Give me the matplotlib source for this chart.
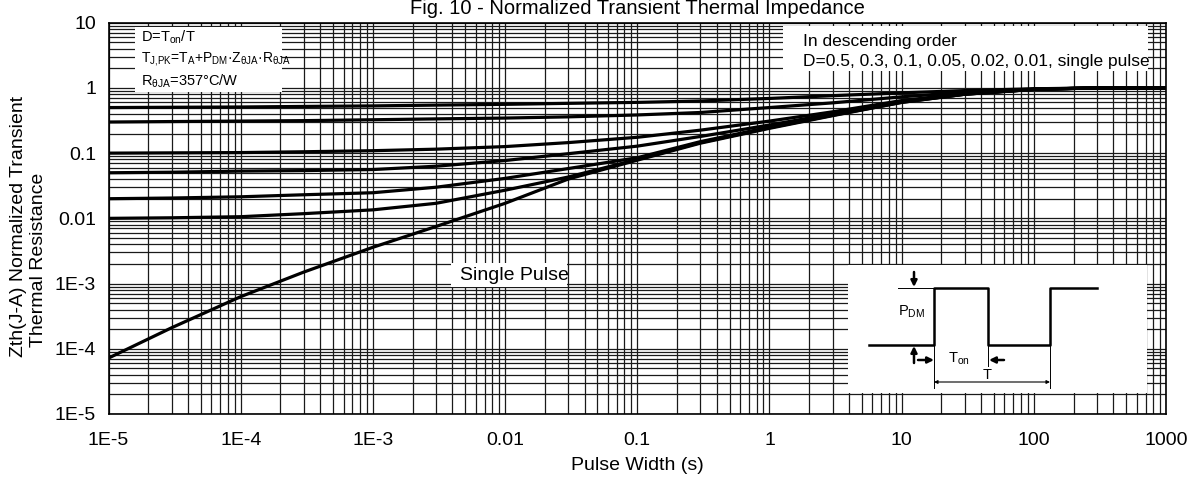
import matplotlib
matplotlib.use("Agg")
import matplotlib.pyplot as plt
from matplotlib.patches import Rectangle
from matplotlib.ticker import LogLocator, NullFormatter

W, H = 1194, 483

plt.rcParams["font.family"] = ["Liberation Sans", "DejaVu Sans"]
plt.rcParams["mathtext.fontset"] = "custom"
plt.rcParams["mathtext.rm"] = "Liberation Sans"
plt.rcParams["mathtext.it"] = "Liberation Sans"
plt.rcParams["mathtext.default"] = "regular"

# ---- data ------------------------------------------------------------------
pulse_width = [1e-5, 3e-5, 1e-4, 3e-4, 1e-3, 3e-3, 1e-2, 3e-2, 0.1, 0.3,
               1, 3, 10, 30, 100, 300, 1000]
zth_d050 = [0.50, 0.505, 0.51, 0.52, 0.53, 0.545, 0.56, 0.58, 0.60, 0.63,
            0.69, 0.76, 0.84, 0.91, 0.97, 1.0, 1.0]
zth_d030 = [0.30, 0.305, 0.31, 0.315, 0.325, 0.335, 0.345, 0.36, 0.385, 0.42,
            0.50, 0.59, 0.73, 0.86, 0.96, 1.0, 1.0]
zth_d010 = [0.100, 0.101, 0.102, 0.105, 0.109, 0.115, 0.126, 0.145, 0.175, 0.225,
            0.31, 0.43, 0.64, 0.82, 0.95, 1.0, 1.0]
zth_d005 = [0.050, 0.051, 0.053, 0.054, 0.056, 0.063, 0.077, 0.098, 0.128, 0.18,
            0.27, 0.40, 0.62, 0.81, 0.95, 1.0, 1.0]
zth_d002 = [0.020, 0.0205, 0.0214, 0.023, 0.0247, 0.030, 0.041, 0.058, 0.085, 0.15,
            0.25, 0.39, 0.61, 0.80, 0.95, 1.0, 1.0]
zth_d001 = [0.0100, 0.0102, 0.0106, 0.0118, 0.0135, 0.017, 0.027, 0.043, 0.080, 0.145,
            0.245, 0.38, 0.60, 0.80, 0.95, 1.0, 1.0]
zth_single = [7.2e-5, 2.1e-4, 6.3e-4, 1.5e-3, 3.6e-3, 7.5e-3, 0.017, 0.040, 0.078, 0.142,
              0.24, 0.375, 0.60, 0.80, 0.95, 1.0, 1.0]
curves = [zth_d050, zth_d030, zth_d010, zth_d005, zth_d002, zth_d001, zth_single]

x_ticks = [1e-5, 1e-4, 1e-3, 1e-2, 0.1, 1, 10, 100, 1000]
x_tick_labels = ["1E-5", "1E-4", "1E-3", "0.01", "0.1", "1", "10", "100", "1000"]
y_ticks = [1e-5, 1e-4, 1e-3, 1e-2, 0.1, 1, 10]
y_tick_labels = ["1E-5", "1E-4", "1E-3", "0.01", "0.1", "1", "10"]

# schematic of the pulse train in the inset (inset-local units)
wave_t = [21, 86, 86, 140, 140, 202, 202, 249]
wave_level = [80, 80, 23, 23, 80, 80, 23, 23]


def fx(x):
    return x / W


def fy(y):
    return 1 - y / H


def white_box(fig, x0, y0, x1, y1):
    fig.add_artist(Rectangle((fx(x0), fy(y1)), fx(x1) - fx(x0), fy(y0) - fy(y1),
                             transform=fig.transFigure, facecolor="white",
                             edgecolor="none", zorder=4))


fig = plt.figure(figsize=(W / 100, H / 100), dpi=100)
ax = fig.add_axes([fx(108.5), fy(414), fx(1166) - fx(108.5), fy(22.7) - fy(414)])

for vals in curves:
    ax.plot(pulse_width, vals, color="black", lw=2.3, solid_capstyle="butt", zorder=2)

ax.set_xscale("log")
ax.set_yscale("log")
ax.set_xlim(1e-5, 1000)
ax.set_ylim(1e-5, 10)
ax.set_xticks(x_ticks, x_tick_labels)
ax.set_yticks(y_ticks, y_tick_labels)
ax.xaxis.set_minor_locator(LogLocator(base=10, subs=range(2, 10), numticks=20))
ax.yaxis.set_minor_locator(LogLocator(base=10, subs=range(2, 10), numticks=20))
ax.xaxis.set_minor_formatter(NullFormatter())
ax.yaxis.set_minor_formatter(NullFormatter())
ax.tick_params(which="both", length=0, labelsize=14)
ax.tick_params(axis="x", pad=13)
ax.tick_params(axis="y", pad=9)
ax.set_axisbelow(True)
ax.grid(which="both", color="#1a1a1a", lw=0.9)
for sp in ax.spines.values():
    sp.set_linewidth(1.2)

fig.text(fx(637), fy(13.5), "Fig. 10 - Normalized Transient Thermal Impedance",
         ha="center", va="baseline", fontsize=14.5)
fig.text(fx(637), fy(466), "Pulse Width (s)", ha="center", va="center", fontsize=14)
fig.text(fx(19), fy(357), "Zth(J-A) Normalized Transient", rotation=90,
         ha="center", va="bottom", fontsize=14)
fig.text(fx(38.5), fy(347), "Thermal Resistance", rotation=90,
         ha="center", va="bottom", fontsize=14)

# formula box, top left
white_box(fig, 135, 27, 282, 92)
formula_lines = [r"D=T$_{on}$/T",
                 r"T$_{J{,}PK}$=T$_{A}$+P$_{DM}$·Z$_{θJA}$·R$_{θJA}$",
                 r"R$_{θJA}$=357°C/W"]
formula_sizes = [10.5, 10, 10.5]
for i, line in enumerate(formula_lines):
    fig.text(fx(141), fy(37 + 22 * i), line, ha="left", va="center",
             fontsize=formula_sizes[i], zorder=5)

# order note, top right
white_box(fig, 783, 26, 1148, 71)
fig.text(fx(803), fy(41.5), "In descending order", ha="left", va="center",
         fontsize=12.5, zorder=5)
fig.text(fx(803), fy(61.5), "D=0.5, 0.3, 0.1, 0.05, 0.02, 0.01, single pulse",
         ha="left", va="center", fontsize=12.5, zorder=5)

# single pulse label
white_box(fig, 451, 262.5, 567, 287)
fig.text(fx(460), fy(275), "Single Pulse", ha="left", va="center",
         fontsize=14, zorder=5)

# inset pulse schematic
ins = fig.add_axes([fx(848), fy(393), fx(1147) - fx(848), fy(265) - fy(393)], zorder=6)
ins.set_xlim(0, 299)
ins.set_ylim(128, 0)
ins.axis("off")
ins.add_patch(Rectangle((0, 0), 299, 128, facecolor="white", edgecolor="none", zorder=0))
ins.plot(wave_t, wave_level, color="black", lw=1.8, zorder=2)
thin = dict(color="black", lw=0.7)
ins.plot([50, 86], [23, 23], **thin)
ins.plot([86, 86], [80, 123], **thin)
ins.plot([202, 202], [80, 123], **thin)
ins.plot([140, 140], [80, 101], **thin)
bold_arrow = dict(arrowstyle="-|>", color="black", lw=1.8, mutation_scale=9,
                  shrinkA=0, shrinkB=0)
ins.annotate("", xy=(66, 22), xytext=(66, 7), arrowprops=bold_arrow)
ins.annotate("", xy=(66, 81), xytext=(66, 98), arrowprops=bold_arrow)
ins.annotate("", xy=(86, 95), xytext=(70, 95), arrowprops=bold_arrow)
ins.annotate("", xy=(141, 95), xytext=(156, 95), arrowprops=bold_arrow)
ins.annotate("", xy=(202, 117), xytext=(86, 117),
             arrowprops=dict(arrowstyle="<|-|>", color="black", lw=0.8,
                             mutation_scale=5, shrinkA=0, shrinkB=0))
ins.text(64, 47, r"P$_{DM}$", ha="center", va="center", fontsize=10.5)
ins.text(111, 94, r"T$_{on}$", ha="center", va="center", fontsize=10.5)
ins.text(139, 110, "T", ha="center", va="center", fontsize=10.5)

fig.savefig("out.png", dpi=100, facecolor="white")
